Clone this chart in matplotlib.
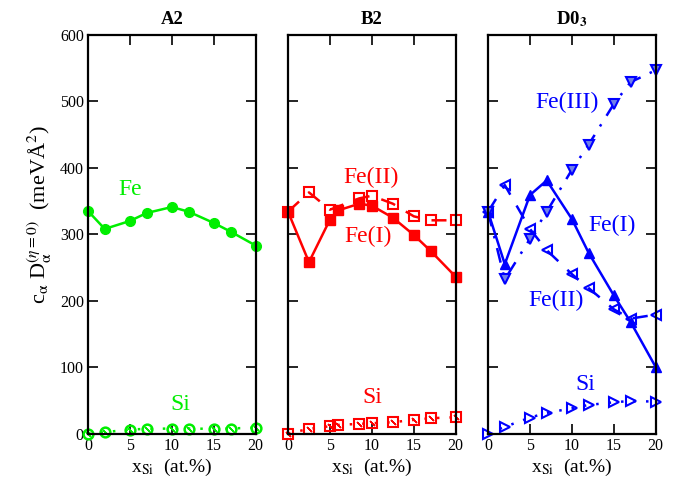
import matplotlib
matplotlib.use("Agg")
import matplotlib.pyplot as plt

plt.rcParams['font.family'] = ['Liberation Serif', 'DejaVu Serif']
plt.rcParams['mathtext.fontset'] = 'stix'

# A2 data
x_a2 = [0, 2, 5, 7, 10, 12, 15, 17, 20]
fe_a2 = [335, 308, 320, 332, 341, 334, 317, 304, 283]
si_a2 = [0, 2, 6, 7, 7.5, 7.5, 7, 7.5, 9]

# B2 data
x_b2 = [0, 2.5, 5, 6, 8.5, 10, 12.5, 15, 17, 20]
feI_b2 = [334, 258, 322, 336, 346, 343, 325, 299, 275, 236]
x_b2_feII = [0, 2.5, 5, 8.5, 10, 12.5, 15, 17, 20]
feII_b2 = [334, 363, 337, 354, 358, 346, 327, 321, 321]
si_b2 = [0, 7, 11, 13, 14.5, 15.5, 17, 20.5, 23, 24.5]

# D0_3 data
x_d03 = [0, 2, 5, 7, 10, 12, 15, 17, 20]
feI_d03 = [334, 255, 359, 381, 323, 272, 208, 168, 100]
feII_d03 = [334, 374, 308, 276, 240, 219, 187, 173, 179]
feIII_d03 = [334, 232, 293, 334, 397, 435, 496, 529, 547]
si_d03 = [0, 10, 24, 31, 38, 43, 47, 49, 48]

titles = ['A2', 'B2', r'D0$_\mathbf{3}$']
xticks = [0, 5, 10, 15, 20]
yticks = [0, 100, 200, 300, 400, 500, 600]

green = '#00ee00'
red = '#ff0000'
blue = '#0000ff'
dots = (0, (1, 4))

fig = plt.figure(figsize=(6.89, 4.82), dpi=100)
lefts = [0.1277, 0.418, 0.7083]
axes = [fig.add_axes([l, 0.1006, 0.2434, 0.8268]) for l in lefts]

for i, ax in enumerate(axes):
    ax.set_xlim(0, 20)
    ax.set_ylim(0, 600)
    ax.set_xticks(xticks)
    ax.set_yticks(yticks)
    ax.tick_params(direction='in', top=True, right=True, length=7, width=1.2,
                   labelsize=11.5, pad=3)
    for s in ax.spines.values():
        s.set_linewidth(1.6)
    if i > 0:
        ax.set_yticklabels([])
    ax.set_title(titles[i], fontsize=13.5, fontweight='bold', pad=8)
    ax.set_xlabel(r'x$_{\rm Si}$  (at.%)', fontsize=14, labelpad=2)

lw = 1.8
# A2
ax = axes[0]
ax.plot(x_a2, fe_a2, '-o', color=green, lw=lw, ms=7, clip_on=False)
ax.plot(x_a2, si_a2, 'o', ls=dots, color=green, lw=lw, ms=7, mfc='none', mew=1.8, clip_on=False)
ax.plot(x_a2, si_a2, marker=(2, 2, 45), ls='none', color=green, ms=5, mew=1, clip_on=False)
ax.text(5.0, 367, 'Fe', color=green, fontsize=17, ha='center', va='center')
ax.text(11, 44, 'Si', color=green, fontsize=17, ha='center', va='center')

# B2
ax = axes[1]
ax.plot(x_b2, feI_b2, '-s', color=red, lw=lw, ms=6.5, clip_on=False)
ax.plot(x_b2_feII, feII_b2, 's', ls=(0, (6, 5)), color=red, lw=lw, ms=6.5, mfc='none', mew=1.5, clip_on=False)
ax.plot(x_b2, si_b2, 's', ls=dots, color=red, lw=lw, ms=6.5, mfc='none', mew=1.5, clip_on=False)
ax.plot(x_b2, si_b2, marker=(2, 2, 45), ls='none', color=red, ms=5, mew=1, clip_on=False)
ax.text(9.9, 385, 'Fe(II)', color=red, fontsize=17, ha='center', va='center')
ax.text(9.5, 296, 'Fe(I)', color=red, fontsize=17, ha='center', va='center')
ax.text(10.1, 54, 'Si', color=red, fontsize=17, ha='center', va='center')

# D0_3
ax = axes[2]
ax.plot(x_d03, feI_d03, '-^', color=blue, lw=lw, ms=7, clip_on=False)
ax.plot(x_d03, feII_d03, '<', ls=(0, (6, 5)), color=blue, lw=lw, ms=7.5, mfc='none', mew=1.5, clip_on=False)
ax.plot(x_d03, feIII_d03, 'v', ls=(0, (6, 4, 1, 4)), color=blue, lw=lw, ms=7.5,
        mfc='#7080e8', mew=1.5, clip_on=False)
ax.plot(x_d03, si_d03, '>', ls=dots, color=blue, lw=lw, ms=7.5, mfc='none', mew=1.5, clip_on=False)
ax.text(9.4, 498, 'Fe(III)', color=blue, fontsize=17, ha='center', va='center')
ax.text(14.8, 314, 'Fe(I)', color=blue, fontsize=17, ha='center', va='center')
ax.text(8.1, 201, 'Fe(II)', color=blue, fontsize=17, ha='center', va='center')
ax.text(11.6, 74, 'Si', color=blue, fontsize=17, ha='center', va='center')

fig.text(0.058, 0.555, r'c$_\mathrm{\alpha}$ D$_\mathrm{\alpha}^{(\eta=0)}$  (meVÅ$^2$)',
         rotation=90, fontsize=16, ha='center', va='center')

fig.savefig('out.png', dpi=100)
